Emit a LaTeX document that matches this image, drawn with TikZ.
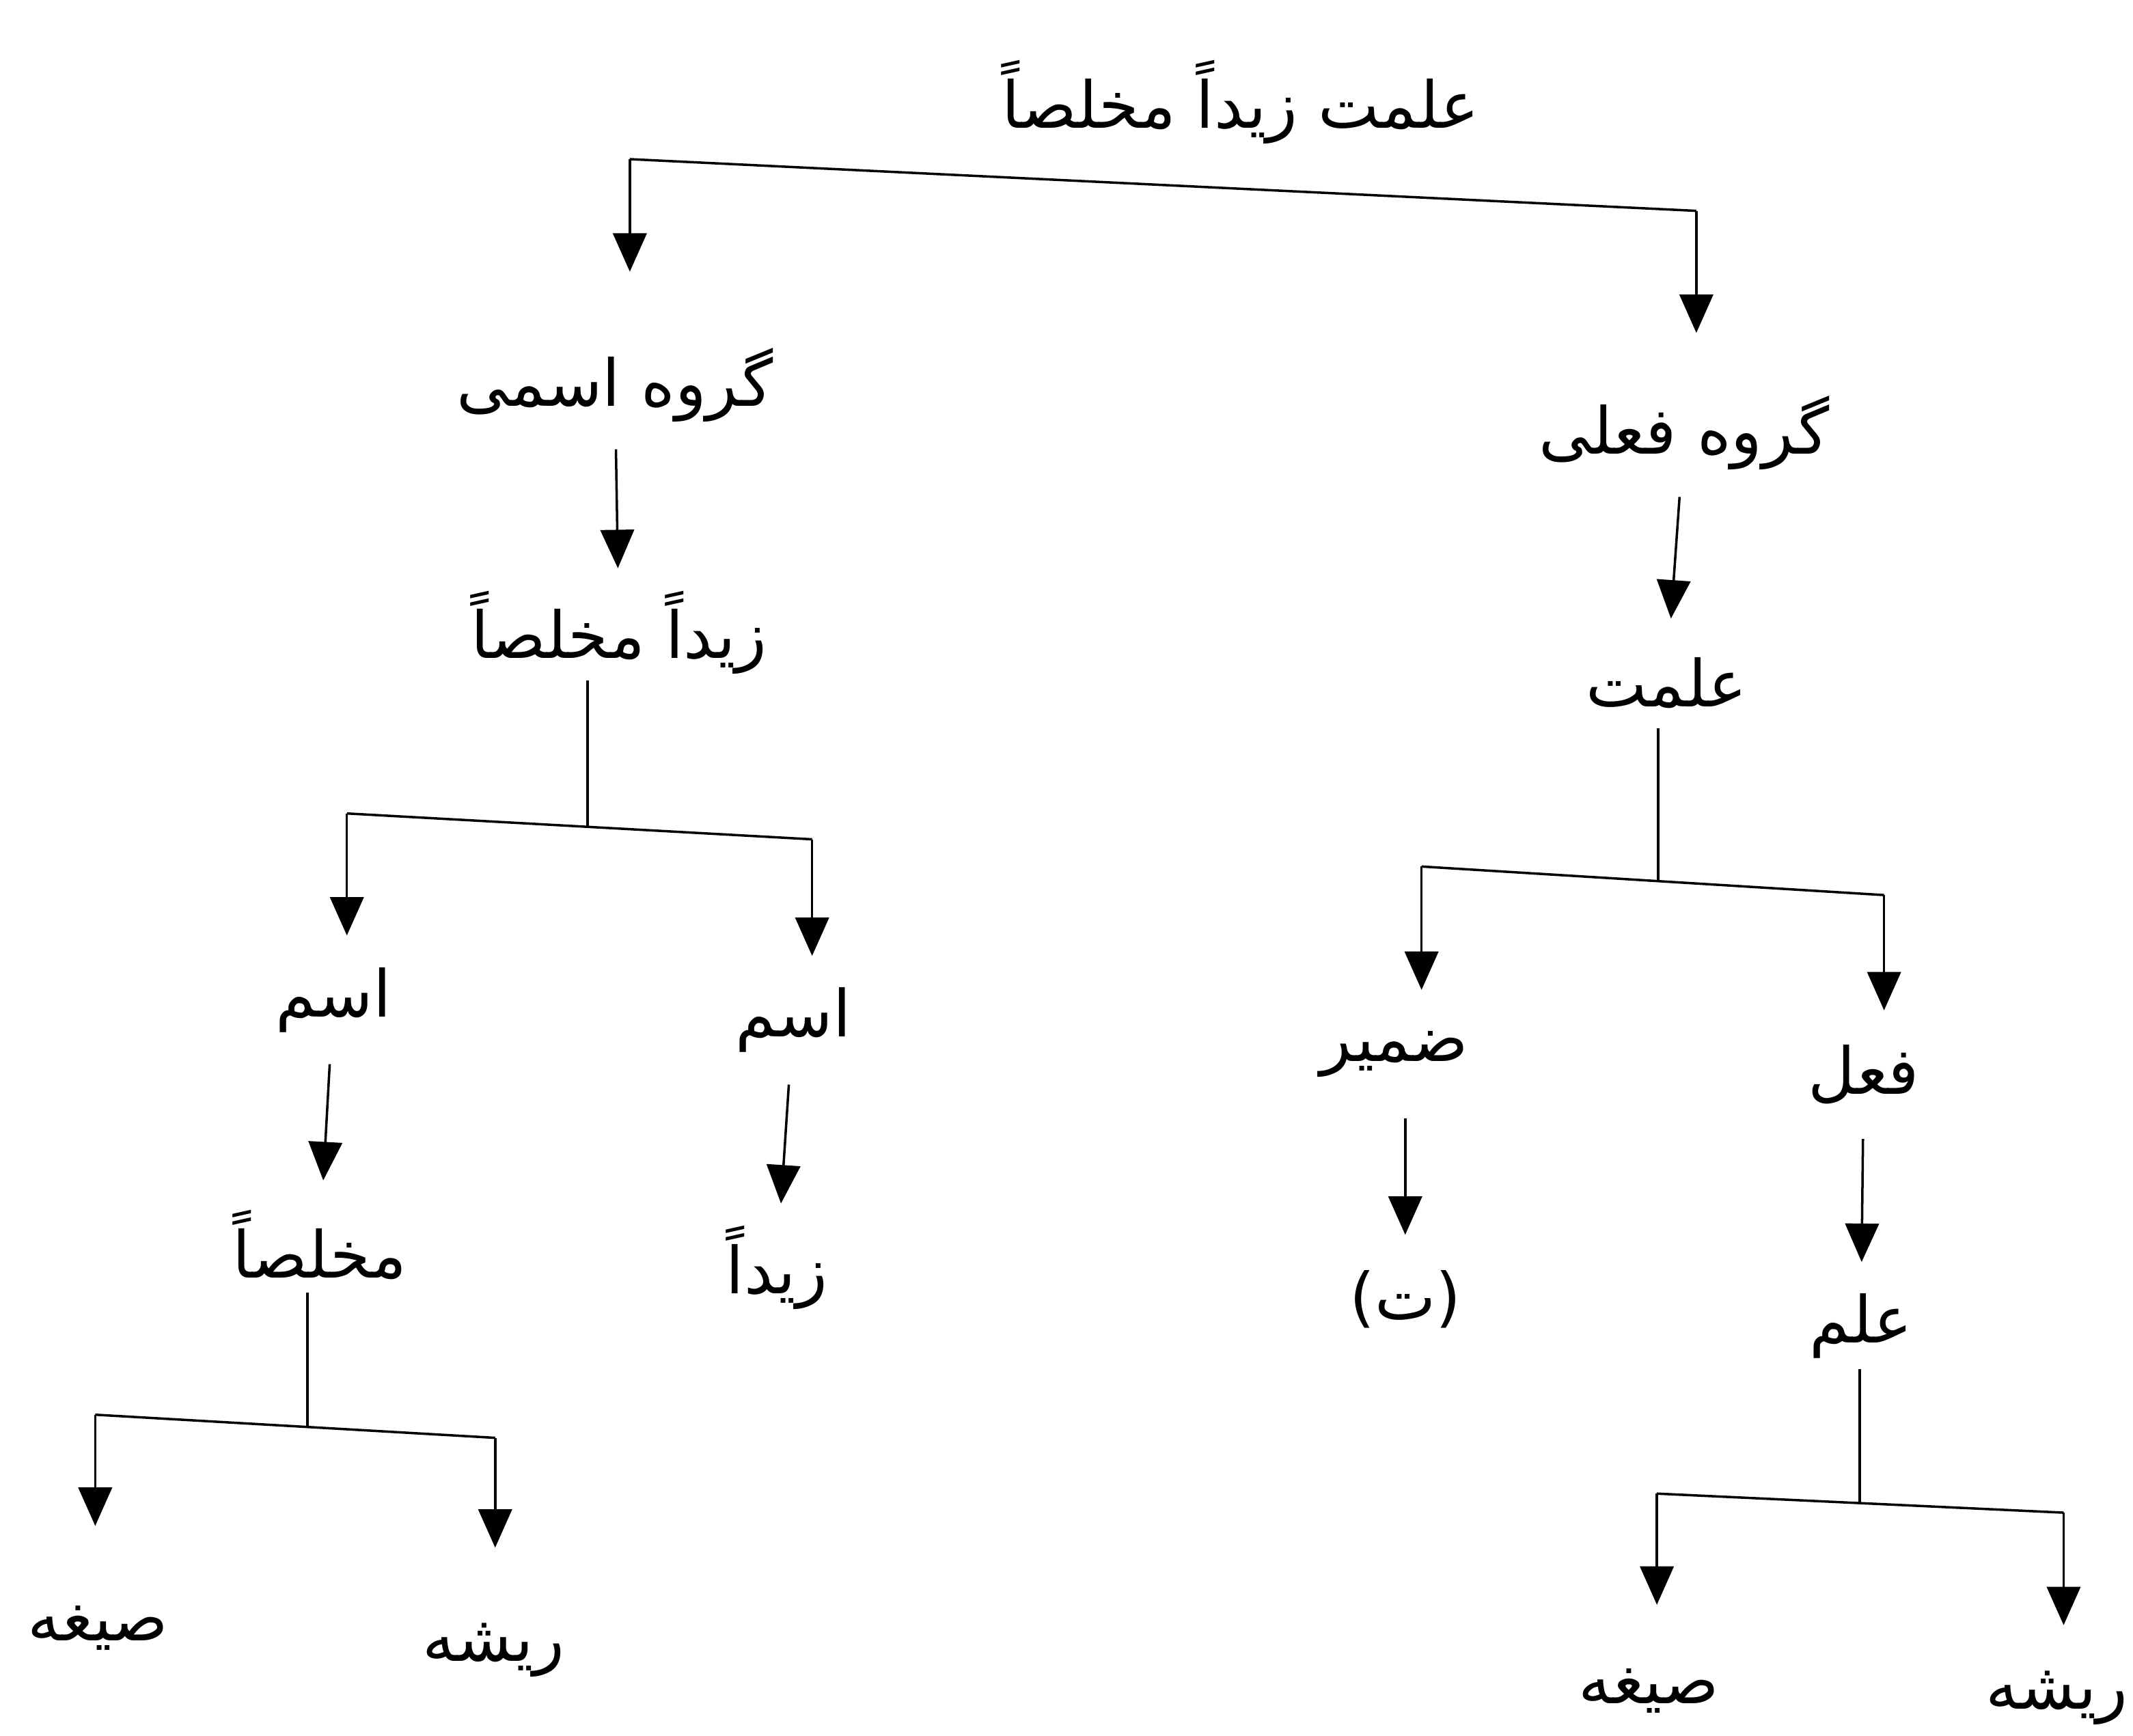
\documentclass[tikz,border=0pt]{standalone}
\usepackage{fontspec}
\usetikzlibrary{arrows.meta,calc}
\newfontfamily\arabicfont[Script=Arabic]{DejaVu Sans}
\TeXXeTstate=1
\begin{document}
\begin{tikzpicture}[x=0.01991cm,y=-0.01991cm,
  lab/.style={font=\arabicfont\fontsize{27}{32}\selectfont, inner sep=0pt, minimum height=53.2pt},
  ln/.style={line width=1pt},
  arr/.style={ln,-{Triangle[width=14pt,length=16pt]}}]
\useasboundingbox (0,0) rectangle (1568,1276);
% nodes
\node[lab] (top) at (912,75) {\beginR علمت زیداً مخلصاً\endR};
\node[lab] (np) at (452,283) {\beginR گروه اسمی\endR};
\node[lab] (vp) at (1238,318) {\beginR گروه فعلی\endR};
\node[lab] (zm) at (455,465) {\beginR زیداً مخلصاً\endR};
\node[lab] (al) at (1225,502) {\beginR علمت\endR};
\node[lab] (ism1) at (245,735) {\beginR اسم\endR};
\node[lab] (ism2) at (583,750) {\beginR اسم\endR};
\node[lab] (mk) at (235,915) {\beginR مخلصاً\endR};
\node[lab] (zd) at (571,932) {\beginR زیداً\endR};
\node[lab] (sg1) at (72,1197) {\beginR صیغه\endR};
\node[lab] (rs1) at (363,1213) {\beginR ریشه\endR};
\node[lab] (dm) at (1025,775) {\beginR ضمیر\endR};
\node[lab] (fl) at (1370,790) {\beginR فعل\endR};
\node[lab] (t) at (1033,955) {(ت)};
\node[lab] (ilm) at (1368,975) {\beginR علم\endR};
\node[lab] (sg2) at (1212,1243) {\beginR صیغه\endR};
\node[lab] (rs2) at (1512,1248) {\beginR ریشه\endR};
% bracket coordinates
\coordinate (b1l) at (463,117); \coordinate (b1r) at (1247,155);
\coordinate (b2l) at (255,598); \coordinate (b2r) at (597,617); \coordinate (j2) at (432,608);
\coordinate (b3l) at (70,1040); \coordinate (b3r) at (364,1057); \coordinate (j3) at (226,1049);
\coordinate (b4l) at (1045,637); \coordinate (b4r) at (1385,658); \coordinate (j4) at (1219,648);
\coordinate (b5l) at (1218,1098); \coordinate (b5r) at (1517,1112); \coordinate (j5) at (1367,1105);
% top bracket
\draw[ln] (b1l) -- (b1r);
\draw[arr,shorten >=36*0.5664pt] (b1l) -- (b1l |- np.north);
\draw[arr,shorten >=26*0.5664pt] (b1r) -- (b1r |- vp.north);
% single arrows
\draw[arr] (np) -- (zm);
\draw[arr] (vp) -- (al);
\draw[arr] (ism1) -- (mk);
\draw[arr] (ism2) -- (zd);
\draw[arr] (dm.south -| t) -- (t);
\draw[arr] (fl) -- (ilm);
% stems
\draw[ln,shorten <=-12*0.5664pt] (j2 |- zm.south) -- (j2);
\draw[ln,shorten <=-12*0.5664pt] (j3 |- mk.south) -- (j3);
\draw[ln,shorten <=-14*0.5664pt] (j4 |- al.south) -- (j4);
\draw[ln,shorten <=-16*0.5664pt] (j5 |- ilm.south) -- (j5);
% brackets
\draw[ln] (b2l) -- (b2r);
\draw[arr] (b2l) -- (b2l |- ism1.north);
\draw[arr] (b2r) -- (b2r |- ism2.north);
\draw[ln] (b3l) -- (b3r);
\draw[arr,shorten >=28*0.5664pt] (b3l) -- (b3l |- sg1.north);
\draw[arr,shorten >=28*0.5664pt] (b3r) -- (b3r |- rs1.north);
\draw[ln] (b4l) -- (b4r);
\draw[arr] (b4l) -- (b4l |- dm.north);
\draw[arr] (b4r) -- (b4r |- fl.north);
\draw[ln] (b5l) -- (b5r);
\draw[arr,shorten >=16*0.5664pt] (b5l) -- (b5l |- sg2.north);
\draw[arr,shorten >=6*0.5664pt] (b5r) -- (b5r |- rs2.north);
\end{tikzpicture}
\end{document}
